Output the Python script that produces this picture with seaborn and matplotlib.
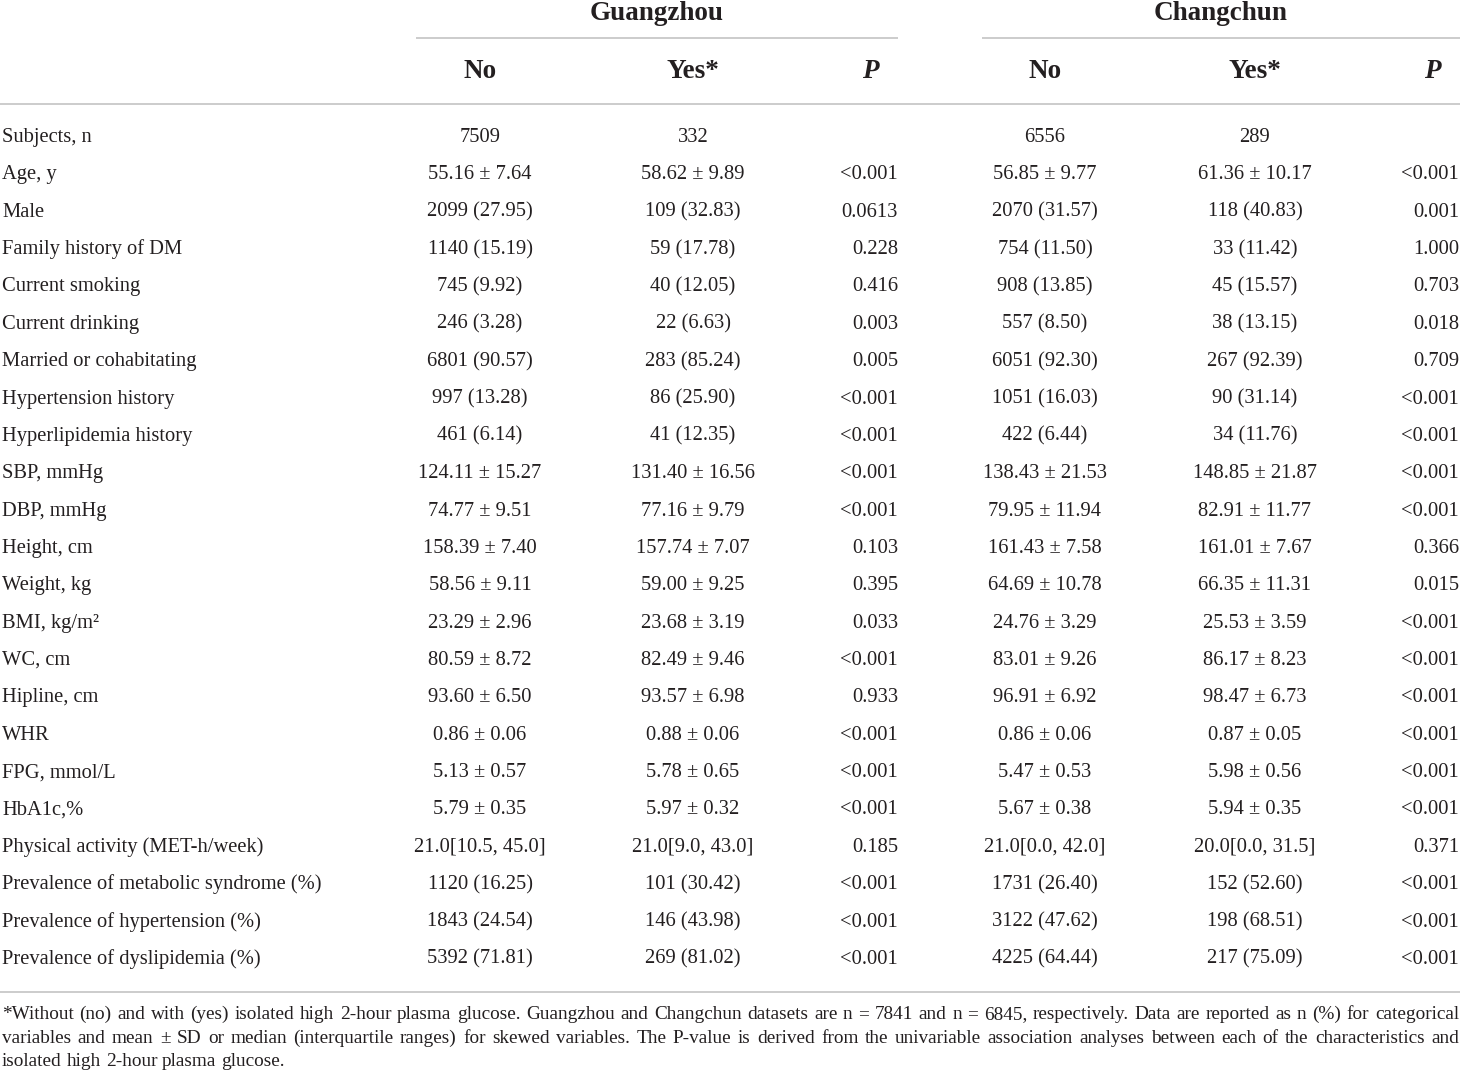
import matplotlib
matplotlib.use("Agg")
import matplotlib.pyplot as plt
import seaborn as sns
import pandas as pd

labels = ["Subjects, n", "Age, y", "Male", "Family history of DM", "Current smoking",
          "Current drinking", "Married or cohabitating", "Hypertension history",
          "Hyperlipidemia history", "SBP, mmHg", "DBP, mmHg", "Height, cm", "Weight, kg",
          "BMI, kg/m²", "WC, cm", "Hipline, cm", "WHR", "FPG, mmol/L", "HbA1c,%",
          "Physical activity (MET-h/week)", "Prevalence of metabolic syndrome (%)",
          "Prevalence of hypertension (%)", "Prevalence of dyslipidemia (%)"]

gz_no = ["7509", "55.16 ± 7.64", "2099 (27.95)", "1140 (15.19)", "745 (9.92)", "246 (3.28)",
         "6801 (90.57)", "997 (13.28)", "461 (6.14)", "124.11 ± 15.27", "74.77 ± 9.51",
         "158.39 ± 7.40", "58.56 ± 9.11", "23.29 ± 2.96", "80.59 ± 8.72", "93.60 ± 6.50",
         "0.86 ± 0.06", "5.13 ± 0.57", "5.79 ± 0.35", "21.0[10.5, 45.0]", "1120 (16.25)",
         "1843 (24.54)", "5392 (71.81)"]
gz_yes = ["332", "58.62 ± 9.89", "109 (32.83)", "59 (17.78)", "40 (12.05)", "22 (6.63)",
          "283 (85.24)", "86 (25.90)", "41 (12.35)", "131.40 ± 16.56", "77.16 ± 9.79",
          "157.74 ± 7.07", "59.00 ± 9.25", "23.68 ± 3.19", "82.49 ± 9.46", "93.57 ± 6.98",
          "0.88 ± 0.06", "5.78 ± 0.65", "5.97 ± 0.32", "21.0[9.0, 43.0]", "101 (30.42)",
          "146 (43.98)", "269 (81.02)"]
gz_p = ["", "<0.001", "0.0613", "0.228", "0.416", "0.003", "0.005", "<0.001", "<0.001",
        "<0.001", "<0.001", "0.103", "0.395", "0.033", "<0.001", "0.933", "<0.001", "<0.001",
        "<0.001", "0.185", "<0.001", "<0.001", "<0.001"]
cc_no = ["6556", "56.85 ± 9.77", "2070 (31.57)", "754 (11.50)", "908 (13.85)", "557 (8.50)",
         "6051 (92.30)", "1051 (16.03)", "422 (6.44)", "138.43 ± 21.53", "79.95 ± 11.94",
         "161.43 ± 7.58", "64.69 ± 10.78", "24.76 ± 3.29", "83.01 ± 9.26", "96.91 ± 6.92",
         "0.86 ± 0.06", "5.47 ± 0.53", "5.67 ± 0.38", "21.0[0.0, 42.0]", "1731 (26.40)",
         "3122 (47.62)", "4225 (64.44)"]
cc_yes = ["289", "61.36 ± 10.17", "118 (40.83)", "33 (11.42)", "45 (15.57)", "38 (13.15)",
          "267 (92.39)", "90 (31.14)", "34 (11.76)", "148.85 ± 21.87", "82.91 ± 11.77",
          "161.01 ± 7.67", "66.35 ± 11.31", "25.53 ± 3.59", "86.17 ± 8.23", "98.47 ± 6.73",
          "0.87 ± 0.05", "5.98 ± 0.56", "5.94 ± 0.35", "20.0[0.0, 31.5]", "152 (52.60)",
          "198 (68.51)", "217 (75.09)"]
cc_p = ["", "<0.001", "0.001", "1.000", "0.703", "0.018", "0.709", "<0.001", "<0.001",
        "<0.001", "<0.001", "0.366", "0.015", "<0.001", "<0.001", "<0.001", "<0.001", "<0.001",
        "<0.001", "0.371", "<0.001", "<0.001", "<0.001"]

groups = ["Guangzhou", "Changchun"]
subheads = ["No", "Yes*", "P"]

footnote = [
    "*Without (no) and with (yes) isolated high 2-hour plasma glucose. Guangzhou and Changchun "
    "datasets are n = 7841 and n = 6845, respectively. Data are reported as n (%) for categorical",
    "variables and mean ± SD or median (interquartile ranges) for skewed variables. The P-value "
    "is derived from the univariable association analyses between each of the characteristics and",
    "isolated high 2-hour plasma glucose.",
]

df = pd.DataFrame({"label": labels, "gz_no": gz_no, "gz_yes": gz_yes, "gz_p": gz_p,
                   "cc_no": cc_no, "cc_yes": cc_yes, "cc_p": cc_p})

sns.set_theme(style="white")
plt.rcParams["font.family"] = ["Liberation Serif", "DejaVu Serif"]
ink = "#231f20"
rule = "#cccccc"

W, H = 1460, 1077
fig = plt.figure(figsize=(W / 100, H / 100), dpi=100)
ax = fig.add_axes([0, 0, 1, 1])
ax.set_xlim(0, W)
ax.set_ylim(H, 0)
ax.axis("off")

# column layout (pixels)
col_x = {"gz_no": 480, "gz_yes": 693, "gz_p": 898, "cc_no": 1045, "cc_yes": 1255, "cc_p": 1459}
col_ha = {"gz_no": "center", "gz_yes": "center", "gz_p": "right",
          "cc_no": "center", "cc_yes": "center", "cc_p": "right"}
group_span = [(416, 898), (982, 1460)]
row_y0, row_step = 136, 37.36
body_fs = 14.8
head_fs = 19.5

# header
for g, (x0, x1) in zip(groups, group_span):
    ax.text((x0 + x1) / 2, 20, g, ha="center", va="baseline", fontsize=head_fs,
            fontweight="bold", color=ink)
    ax.plot([x0, x1], [38, 38], color=rule, lw=1.4, solid_capstyle="butt")

head_x = [480, 693, 870, 1045, 1255, 1432]
for i, x in enumerate(head_x):
    h = subheads[i % 3]
    style = "italic" if h == "P" else "normal"
    ax.text(x, 78, h, ha="center", va="baseline", fontsize=head_fs, fontweight="bold",
            fontstyle=style, color=ink)
ax.plot([0, W], [104, 104], color=rule, lw=1.4, solid_capstyle="butt")

# body
for i, row in df.iterrows():
    y = row_y0 + i * row_step + 6
    ax.text(2, y, row["label"], ha="left", va="baseline", fontsize=body_fs, color=ink)
    for c in col_x:
        ax.text(col_x[c], y, row[c], ha=col_ha[c], va="baseline", fontsize=body_fs, color=ink)

ax.plot([0, W], [992, 992], color=rule, lw=1.4, solid_capstyle="butt")

# justified footnote
fig.canvas.draw()
r = fig.canvas.get_renderer()
foot_fs = 13.9
for k, line in enumerate(footnote):
    y = 1014 + k * 23.7 + 5
    words = line.split(" ")
    ts = [ax.text(0, y, w, ha="left", va="baseline", fontsize=foot_fs, color=ink) for w in words]
    ws = [t.get_window_extent(r).width for t in ts]
    if k < len(footnote) - 1:
        gap = (W - 3 - sum(ws)) / (len(words) - 1)
    else:
        sp = ax.text(0, y, "a a", fontsize=foot_fs)
        gap = sp.get_window_extent(r).width
        sp.remove()
        a1 = ax.text(0, y, "aa", fontsize=foot_fs)
        gap -= a1.get_window_extent(r).width
        a1.remove()
    x = 2
    for t, w in zip(ts, ws):
        t.set_x(x)
        x += w + gap

fig.savefig("out.png", dpi=100, facecolor="white")
